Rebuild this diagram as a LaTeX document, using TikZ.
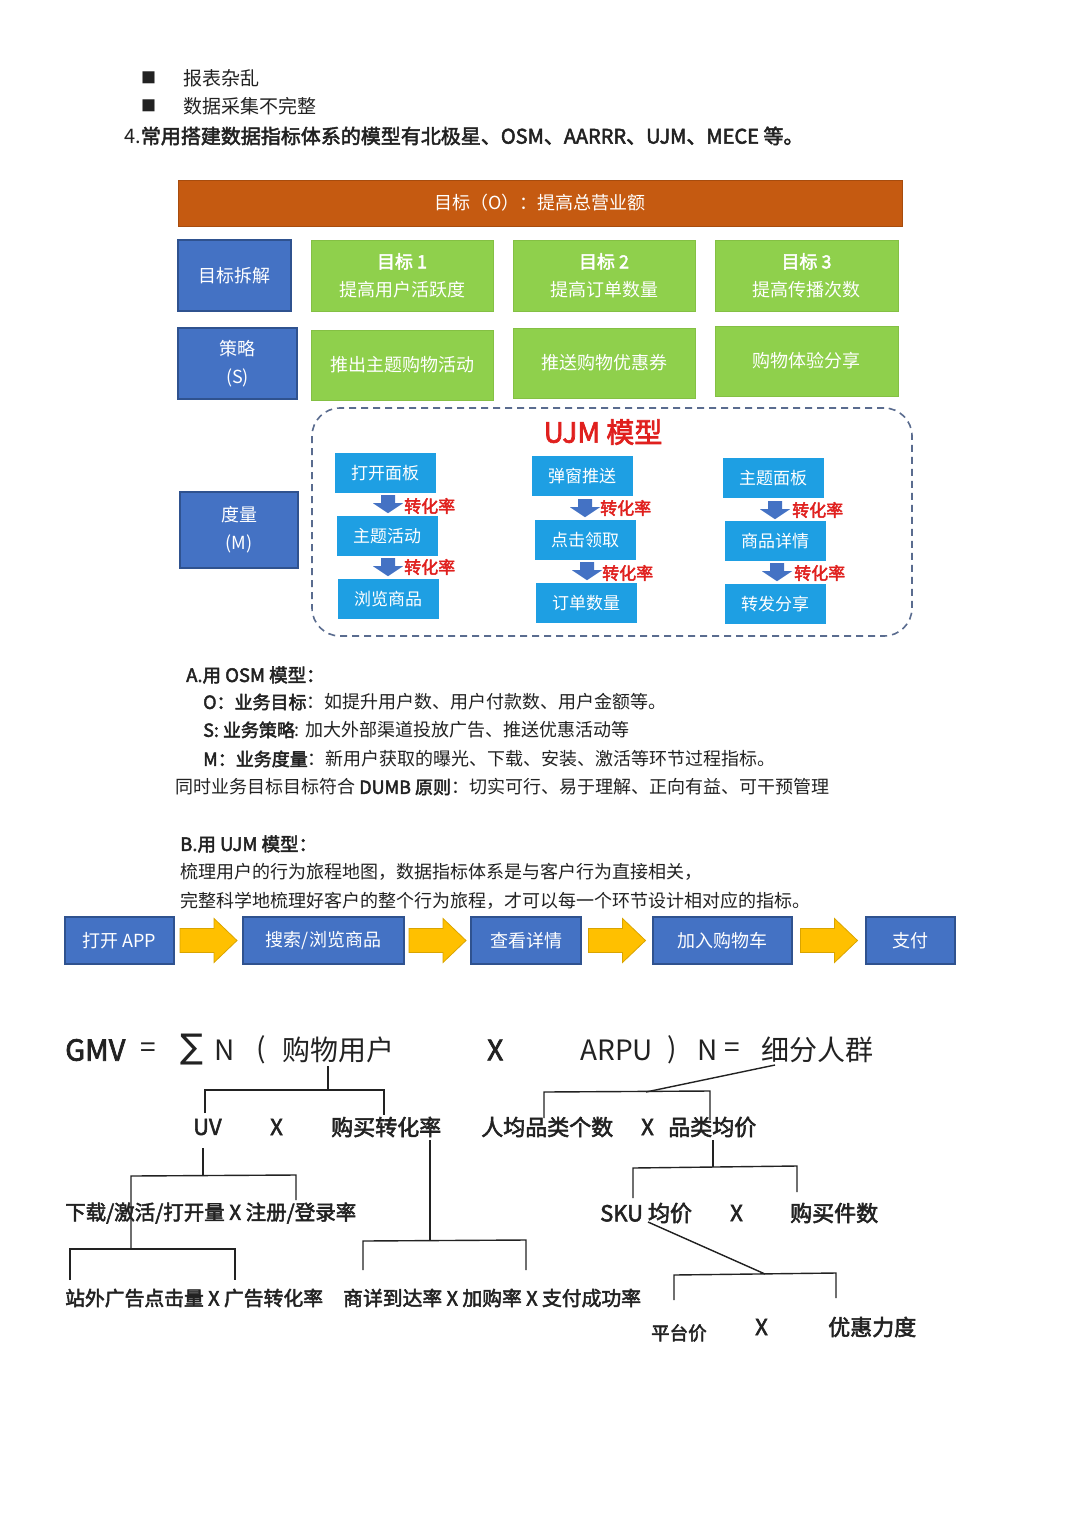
\documentclass[tikz,border=0pt]{standalone}
\usepackage{fontspec}
\setmainfont{Noto Sans CJK SC}[AutoFakeBold=2.5]
\newfontfamily\djv{DejaVu Sans}
\usetikzlibrary{calc}
\definecolor{obar}{HTML}{C55A11}
\definecolor{bbox}{HTML}{4472C4}
\definecolor{bedge}{HTML}{2F528F}
\definecolor{gbox}{HTML}{8FD04C}
\definecolor{gedge}{HTML}{84C044}
\definecolor{lbox}{HTML}{1E9FE3}
\definecolor{yarr}{HTML}{FFC000}
\definecolor{yedge}{HTML}{D9A400}
\definecolor{rtxt}{HTML}{E0201E}
\definecolor{dbox}{HTML}{5A6C8F}
\definecolor{ink}{HTML}{222222}
\newcommand\fz[2]{\fontsize{#1}{#2}\selectfont}
\begin{document}
\begin{tikzpicture}[x=1pt,y=-1pt,
 txt/.style={inner sep=0pt, anchor=west, text=ink},
 bluebox/.style={draw=bedge, line width=1.5pt, fill=bbox, text=white, align=center, inner sep=0pt, font=\fz{18}{28}},
 greenbox/.style={fill=gbox, draw=gedge, line width=0.8pt, text=white, align=center, inner sep=0pt, font=\fz{18}{28}},
 ujmbox/.style={fill=lbox, text=white, inner sep=0pt, minimum width=101pt, minimum height=40pt, font=\fz{17}{20}},
 conv/.style={inner sep=0pt, anchor=west, text=rtxt, font=\fz{17}{20}\bfseries},
 flowbox/.style={draw=bedge, line width=1.5pt, fill=bbox, text=white, inner sep=0pt, minimum height=47pt, font=\fz{18}{20}},
 tree/.style={line width=1.4pt, draw=ink},
 dnarr/.pic={\fill[bbox] (-7,0) -- (7,0) -- (7,8) -- (15,8) -- (0,18) -- (-15,8) -- (-7,8) -- cycle;},
 rtarr/.pic={\filldraw[fill=yarr, draw=yedge, line width=0.8pt] (0,-12) -- (34,-12) -- (34,-22) -- (57,0) -- (34,22) -- (34,12) -- (0,12) -- cycle;},
]
\useasboundingbox (0,0) rectangle (1080,1528);
\fill[white] (0,0) rectangle (1080,1528);

% top text
\node[txt, font=\fz{15}{16}] (bl1) at (141,78) {■};
\node[txt, font=\fz{15}{16}] (bl2) at (141,106) {■};
\node[txt, font=\fz{19}{20}] (l1) at (183,78) {报表杂乱};
\node[txt, font=\fz{19}{20}] (l2) at (183,106) {数据采集不完整};
\node[txt, font=\fz{20}{22}] (l3) at (124,136) {4.\textbf{常用搭建数据指标体系的模型有北极星、OSM、AARRR、UJM、MECE 等。}};

% OSM block
\node[fill=obar, draw=obar!85!black, minimum width=724pt, minimum height=46pt, text=white, font=\fz{18}{20}, inner sep=0pt] (goal) at (540,203) {目标（O）：提高总营业额};
\node[bluebox, minimum width=113pt, minimum height=71pt] (dec) at (234.5,275.5) {目标拆解};
\node[greenbox, minimum width=182pt, minimum height=71pt] (g1) at (402,275.5) {\textbf{目标 1}\\提高用户活跃度};
\node[greenbox, minimum width=182pt, minimum height=71pt] (g2) at (604,275.5) {\textbf{目标 2}\\提高订单数量};
\node[greenbox, minimum width=183pt, minimum height=71pt] (g3) at (806.5,275.5) {\textbf{目标 3}\\提高传播次数};
\node[bluebox, minimum width=119pt, minimum height=71pt] (str) at (237.5,363.5) {策略\\(S)};
\node[greenbox, minimum width=182pt, minimum height=70pt] (s1) at (402,365) {推出主题购物活动};
\node[greenbox, minimum width=182pt, minimum height=70pt] (s2) at (604,363) {推送购物优惠券};
\node[greenbox, minimum width=183pt, minimum height=70pt] (s3) at (806.5,361) {购物体验分享};
\node[bluebox, minimum width=118pt, minimum height=76pt] (mea) at (239,530) {度量\\(M)};

% UJM frame
\node[draw=dbox, line width=1.6pt, dash pattern=on 7pt off 5pt, rounded corners=28pt, minimum width=600pt, minimum height=228pt, inner sep=0pt] (frame) at (612,522) {};
\node[text=rtxt, font=\fz{28}{30}\bfseries, inner sep=0pt] (ujmt) at (603,432) {UJM 模型};

\node[ujmbox] (a1) at (385,473) {打开面板};
\node[ujmbox] (a2) at (387,536) {主题活动};
\node[ujmbox] (a3) at (388,599) {浏览商品};
\node[ujmbox] (c1) at (582,476) {弹窗推送};
\node[ujmbox] (c2) at (585,540) {点击领取};
\node[ujmbox] (c3) at (586,603) {订单数量};
\node[ujmbox] (d1) at (773,478) {主题面板};
\node[ujmbox] (d2) at (775,541) {商品详情};
\node[ujmbox] (d3) at (775,604) {转发分享};

\path ($(a1.south)+(3,2)$) pic {dnarr};
\path ($(a2.south)+(1,2)$) pic {dnarr};
\path ($(c1.south)+(3,3)$) pic {dnarr};
\path ($(c2.south)+(2,2)$) pic {dnarr};
\path ($(d1.south)+(2,3)$) pic {dnarr};
\path ($(d2.south)+(2,2)$) pic {dnarr};

\node[conv] (r1) at (404,506) {转化率};
\node[conv] (r2) at (404,567) {转化率};
\node[conv] (r3) at (600,508) {转化率};
\node[conv] (r4) at (602,573) {转化率};
\node[conv] (r5) at (792,510) {转化率};
\node[conv] (r6) at (794,573) {转化率};

% text section
\node[txt, font=\fz{18.5}{20}\bfseries] (ta) at (186,675) {A.用 OSM 模型：};
\node[txt, font=\fz{18}{20}] (to) at (203,702) {\textbf{O：业务目标}：如提升用户数、用户付款数、用户金额等。};
\node[txt, font=\fz{18}{20}] (ts) at (203,730) {\textbf{S: 业务策略}: 加大外部渠道投放广告、推送优惠活动等};
\node[txt, font=\fz{18}{20}] (tm) at (203,759) {\textbf{M：业务度量}：新用户获取的曝光、下载、安装、激活等环节过程指标。};
\node[txt, font=\fz{18}{20}] (td) at (175,787) {同时业务目标目标符合 \textbf{DUMB 原则}：切实可行、易于理解、正向有益、可干预管理};
\node[txt, font=\fz{18.5}{20}\bfseries] (tb) at (180,844) {B.用 UJM 模型：};
\node[txt, font=\fz{18}{20}] (tb1) at (180,872) {梳理用户的行为旅程地图，数据指标体系是与客户行为直接相关，};
\node[txt, font=\fz{18}{20}] (tb2) at (180,901) {完整科学地梳理好客户的整个行为旅程，才可以每一个环节设计相对应的指标。};

% flow
\node[flowbox, minimum width=109pt] (f1) at (119.5,940.5) {打开 APP};
\node[flowbox, minimum width=161pt] (f2) at (323.5,940.5) {搜索/浏览商品};
\node[flowbox, minimum width=110pt] (f3) at (526,940.5) {查看详情};
\node[flowbox, minimum width=139pt] (f4) at (722.5,940.5) {加入购物车};
\node[flowbox, minimum width=89pt] (f5) at (910.5,940.5) {支付};
\path ($(f1.east)!0.5!(f2.west)+(-28.5,0)$) pic {rtarr};
\path ($(f2.east)!0.5!(f3.west)+(-28.5,0)$) pic {rtarr};
\path ($(f3.east)!0.5!(f4.west)+(-28.5,0)$) pic {rtarr};
\path ($(f4.east)!0.5!(f5.west)+(-28.5,0)$) pic {rtarr};

% GMV formula
\node[txt, font=\fz{29}{30}\bfseries] (gmv) at (65,1050) {GMV};
\node[txt, font=\fz{28}{30}] (eq1) at (140,1050) {=};
\node[txt, font=\djv\fz{34}{36}] (sig) at (180,1050) {∑};
\node[txt, font=\fz{28}{30}] (n1) at (214,1050) {N};
\node[txt, font=\fz{28}{30}] (lp) at (256,1050) {(};
\node[txt, font=\fz{28}{30}] (buyu) at (282,1050) {购物用户};
\node[txt, font=\fz{28}{30}\bfseries] (x1) at (487,1050) {X};
\node[txt, font=\fz{28}{30}] (arpu) at (580,1050) {ARPU};
\node[txt, font=\fz{28}{30}] (rp) at (667,1050) {)};
\node[txt, font=\fz{28}{30}] (n2) at (697,1050) {N};
\node[txt, font=\fz{28}{30}] (eq2) at (724,1050) {=};
\node[txt, font=\fz{28}{30}] (seg) at (761,1050) {细分人群};

\node[txt, font=\fz{22}{24}\bfseries] (uv) at (193,1127) {UV};
\node[txt, font=\fz{22}{24}\bfseries] (x2) at (270,1127) {X};
\node[txt, font=\fz{22}{24}\bfseries] (cvr) at (331,1127) {购买转化率};
\node[txt, font=\fz{22}{24}\bfseries] (cat) at (481,1127) {人均品类个数};
\node[txt, font=\fz{22}{24}\bfseries] (x3) at (641,1127) {X};
\node[txt, font=\fz{22}{24}\bfseries] (cp) at (668,1127) {品类均价};

\node[txt, font=\fz{20.5}{22}\bfseries] (dl) at (65,1213) {下载/激活/打开量 X 注册/登录率};
\node[txt, font=\fz{22}{24}\bfseries] (sku) at (600,1213) {SKU 均价};
\node[txt, font=\fz{22}{24}\bfseries] (x4) at (730,1213) {X};
\node[txt, font=\fz{22}{24}\bfseries] (qty) at (790,1213) {购买件数};

\node[txt, font=\fz{19.8}{22}\bfseries] (ad) at (65,1298) {站外广告点击量 X 广告转化率};
\node[txt, font=\fz{19.8}{22}\bfseries] (pd) at (343,1298) {商详到达率 X 加购率 X 支付成功率};

\node[txt, font=\fz{18.5}{20}\bfseries] (pp) at (651,1333) {平台价};
\node[txt, font=\fz{22}{24}\bfseries] (x5) at (755,1327) {X};
\node[txt, font=\fz{22}{24}\bfseries] (disc) at (828,1327) {优惠力度};

% tree lines
\draw[tree] (328,1066) -- (328,1090);
\draw[tree] (205,1113) -- (205,1090) -- (384,1090) -- (384,1115);
\draw[tree] (775,1065) -- (646,1092);
\draw[tree] (544,1118) -- (544,1092) -- (710,1091) -- (710,1120);
\draw[tree] (203,1148) -- (203,1175);
\draw[tree] (131,1248) -- (131,1176) -- (296,1175) -- (296,1200);
\draw[tree] (70,1280) -- (70,1249) -- (235,1249) -- (235,1280);
\draw[tree] (430,1140) -- (430,1240);
\draw[tree] (363,1270) -- (363,1241) -- (526,1240) -- (526,1270);
\draw[tree] (713,1140) -- (713,1167);
\draw[tree] (633,1198) -- (633,1168) -- (797,1166) -- (797,1192);
\draw[tree] (648,1222) -- (765,1274);
\draw[tree] (674,1300) -- (674,1275) -- (836,1273) -- (836,1298);
\end{tikzpicture}
\end{document}
